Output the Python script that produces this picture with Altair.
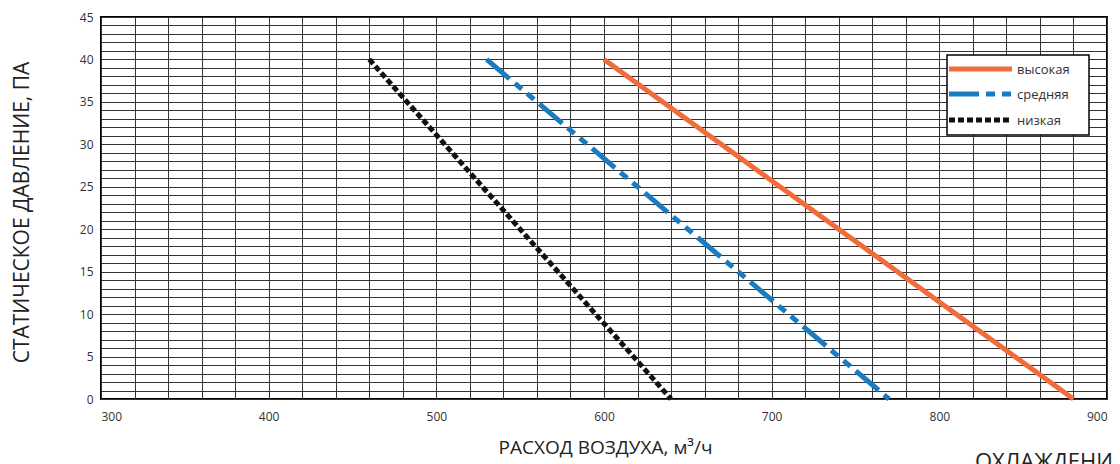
import altair as alt
import pandas as pd

# ---- data ----
series = ["высокая", "средняя", "низкая"]
high_flow = [600, 880]
high_pressure = [40, 0]
mid_flow = [530, 770]
mid_pressure = [40, 0]
low_flow = [460, 640]
low_pressure = [40, 0]

x_grid = list(range(300, 901, 20))
y_grid = list(range(0, 46, 1))

rows = []
for name, xs, ys in [(series[0], high_flow, high_pressure),
                     (series[1], mid_flow, mid_pressure),
                     (series[2], low_flow, low_pressure)]:
    for i, (a, b) in enumerate(zip(xs, ys)):
        rows.append({"series": name, "flow": a, "pressure": b, "i": i})
df = pd.DataFrame(rows)

FONT = "Open Sans"
colors = ["#F26B3A", "#1B7BC0", "#111111"]
dashes = [[1, 0], [30, 7, 9, 7, 9, 7], [6, 3]]

lines = alt.Chart(df).mark_line(strokeWidth=5, strokeCap="butt").encode(
    x=alt.X("flow:Q",
            scale=alt.Scale(domain=[300, 900], nice=False, zero=False),
            axis=alt.Axis(values=x_grid, labelExpr="datum.value % 100 === 0 ? datum.label : ''",
                          title="РАСХОД ВОЗДУХА, м³/ч", titleX=504, titleY=48,
                          titleBaseline="middle", titleFontSize=19, labelPadding=12)),
    y=alt.Y("pressure:Q",
            scale=alt.Scale(domain=[0, 45], nice=False),
            axis=alt.Axis(values=y_grid, labelExpr="datum.value % 5 === 0 ? datum.label : ''",
                          title="СТАТИЧЕСКОЕ ДАВЛЕНИЕ, ПА", titleX=-79, titleY=195,
                          titleBaseline="middle", titleAngle=-90, titleFontSize=21,
                          labelPadding=8)),
    color=alt.Color("series:N", sort=series,
                    scale=alt.Scale(domain=series, range=colors), legend=None),
    strokeDash=alt.StrokeDash("series:N", sort=series,
                              scale=alt.Scale(domain=series, range=dashes), legend=None),
    order="i:O",
)

# ---- hand-drawn legend box ----
legend_box = alt.Chart(pd.DataFrame({"k": [0]})).mark_rect(
    fill="white", stroke="black", strokeWidth=1.5
).encode(x=alt.value(846), x2=alt.value(988), y=alt.value(38), y2=alt.value(118))

legend_layers = [legend_box]
row_y = [52, 77, 103]
for name, col, dash, yy in zip(series, colors, dashes, row_y):
    sym = alt.Chart(pd.DataFrame({"series": [name]})).mark_rule(
        strokeWidth=5, strokeDash=dash, color=col, strokeCap="butt"
    ).encode(x=alt.value(848), x2=alt.value(911), y=alt.value(yy))
    lab = alt.Chart(pd.DataFrame({"series": [name]})).mark_text(
        align="left", baseline="middle", fontSize=13, font=FONT, color="#333"
    ).encode(text="series:N", x=alt.value(916), y=alt.value(yy + 1))
    legend_layers += [sym, lab]

note = alt.Chart(pd.DataFrame({"t": ["ОХЛАЖДЕНИЕ"]})).mark_text(
    align="left", baseline="top", fontSize=22, font=FONT, color="#222"
).encode(text="t:N", x=alt.value(874), y=alt.value(435))

chart = alt.layer(lines, *legend_layers, note).properties(
    width=1006, height=382,
    autosize=alt.AutoSizeParams(type="none"),
    padding={"left": 93, "top": 9, "right": 5, "bottom": 65},
).configure_view(
    stroke="black", strokeWidth=2
).configure_axis(
    domain=False, ticks=False, grid=True, gridColor="#333333", gridWidth=1, gridOpacity=1,
    labelFont=FONT, labelFontSize=12, labelColor="#333",
    titleFont=FONT, titleColor="#222", titleFontWeight="normal",
)

chart.save("out.html", embed_options={"renderer": "svg", "actions": False})
